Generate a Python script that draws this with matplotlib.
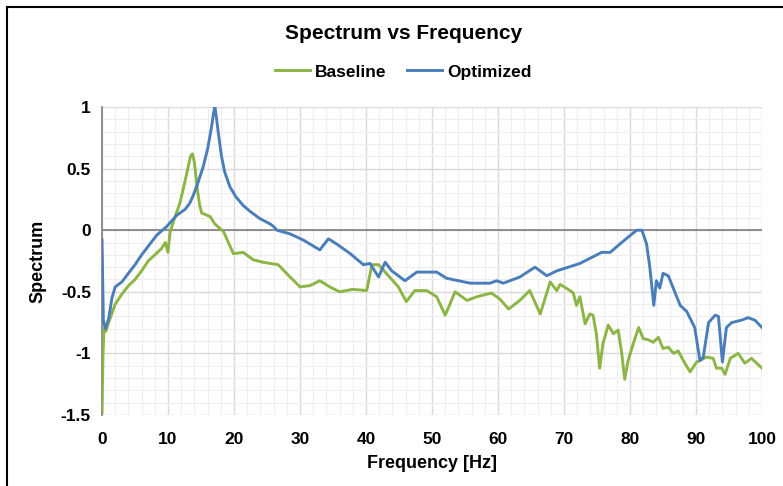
import matplotlib
matplotlib.use("Agg")
from matplotlib import pyplot as plt
from matplotlib.patches import Rectangle
from matplotlib.ticker import MultipleLocator

plt.rcParams['font.family'] = ['Liberation Sans', 'DejaVu Sans']
plt.rcParams['font.weight'] = 'bold'

# values
base_freq = [0.0, 0.15, 0.3, 0.6, 1.0, 2.0, 3.0, 4.0, 5.0, 6.0, 7.0, 8.0, 9.0, 9.6, 10.0,
             10.3, 11.0, 11.8, 12.5, 13.0, 13.4, 13.7, 14.0, 14.4, 14.8, 15.1, 16.4, 17.1,
             18.4, 19.9, 21.4, 22.9, 24.4, 26.7, 28.5, 30.0, 31.5, 33.0, 34.5, 36.0, 38.0,
             40.1, 40.9, 41.9, 42.9, 44.9, 46.1, 47.4, 49.2, 50.7, 52.0, 53.5, 55.3, 56.8,
             59.0, 60.3, 61.6, 63.3, 64.8, 66.4, 67.9, 68.9, 69.4, 70.9, 71.4, 71.9, 72.4,
             73.2, 73.9, 74.4, 74.9, 75.4, 75.9, 76.7, 77.5, 78.2, 78.7, 79.2, 79.7, 80.5,
             81.3, 82.0, 82.8, 83.5, 84.3, 85.0, 85.8, 86.6, 87.3, 88.1, 89.1, 90.1, 91.6,
             92.6, 93.1, 93.9, 94.4, 95.2, 96.4, 97.4, 98.4, 100.0]
base_vals = [-1.48, -1.0, -0.8, -0.82, -0.75, -0.6, -0.52, -0.45, -0.4, -0.33, -0.25, -0.2,
             -0.15, -0.1, -0.18, -0.02, 0.1, 0.22, 0.38, 0.5, 0.6, 0.62, 0.55, 0.35, 0.2,
             0.14, 0.11, 0.05, -0.01, -0.19, -0.18, -0.24, -0.26, -0.28, -0.38, -0.46,
             -0.45, -0.41, -0.46, -0.5, -0.48, -0.49, -0.28, -0.28, -0.34, -0.46, -0.58,
             -0.49, -0.49, -0.54, -0.69, -0.5, -0.57, -0.54, -0.51, -0.56, -0.64, -0.57,
             -0.49, -0.68, -0.42, -0.49, -0.44, -0.49, -0.51, -0.61, -0.54, -0.76, -0.68,
             -0.69, -0.84, -1.12, -0.92, -0.77, -0.84, -0.81, -0.98, -1.21, -1.06, -0.92,
             -0.79, -0.88, -0.89, -0.91, -0.87, -0.96, -0.95, -1.0, -0.98, -1.06, -1.15,
             -1.07, -1.03, -1.04, -1.12, -1.12, -1.17, -1.04, -1.0, -1.08, -1.04, -1.12]

opt_freq = [0.0, 0.2, 0.5, 1.0, 1.5, 2.0, 3.0, 4.0, 5.0, 6.0, 7.0, 8.3, 9.8, 11.3, 12.6,
            13.3, 13.8, 14.5, 15.3, 16.0, 16.6, 16.9, 17.1, 17.3, 17.6, 18.1, 18.6, 19.4,
            20.3, 21.4, 22.5, 23.9, 25.5, 26.0, 26.5, 28.5, 30.5, 33.0, 34.3, 35.5, 37.6,
            39.6, 40.6, 41.9, 42.9, 43.9, 45.9, 47.7, 50.7, 52.2, 55.8, 58.8, 59.8, 60.8,
            63.3, 65.6, 67.4, 68.9, 72.4, 75.7, 77.0, 78.5, 81.0, 81.8, 82.5, 83.0, 83.6,
            84.0, 84.5, 85.0, 85.8, 87.6, 88.6, 89.8, 90.6, 91.1, 91.9, 92.9, 93.4, 94.0,
            94.6, 95.4, 96.9, 97.9, 98.9, 100.0]
opt_vals = [-0.08, -0.73, -0.8, -0.72, -0.55, -0.46, -0.42, -0.35, -0.28, -0.2, -0.13, -0.04,
            0.03, 0.12, 0.17, 0.22, 0.28, 0.38, 0.51, 0.66, 0.84, 0.95, 1.0, 0.93, 0.8, 0.6,
            0.47, 0.35, 0.27, 0.2, 0.15, 0.095, 0.05, 0.03, 0.0, -0.03, -0.08, -0.16, -0.07,
            -0.11, -0.19, -0.28, -0.27, -0.38, -0.26, -0.33, -0.41, -0.34, -0.34, -0.39,
            -0.43, -0.43, -0.41, -0.43, -0.38, -0.3, -0.37, -0.33, -0.27, -0.18, -0.18,
            -0.11, 0.0, 0.0, -0.11, -0.3, -0.61, -0.41, -0.47, -0.35, -0.37, -0.61, -0.66,
            -0.79, -1.06, -1.03, -0.75, -0.69, -0.7, -1.07, -0.79, -0.75, -0.73, -0.71,
            -0.73, -0.79]

fig = plt.figure(figsize=(7.83, 4.86), dpi=100)
ax = fig.add_axes([0.1303, 0.1461, 0.8429, 0.6337])

ax.plot(base_freq, base_vals, color='#8cb545', lw=2.1, label='Baseline', zorder=3,
        solid_joinstyle='round')
ax.plot(opt_freq, opt_vals, color='#4a7ebb', lw=2.1, label='Optimized', zorder=4,
        solid_joinstyle='round')

ax.set_xlim(0, 100)
ax.set_ylim(-1.5, 1)
ax.xaxis.set_major_locator(MultipleLocator(10))
ax.xaxis.set_minor_locator(MultipleLocator(2))
ax.yaxis.set_major_locator(MultipleLocator(0.5))
ax.yaxis.set_minor_locator(MultipleLocator(0.1))
ax.grid(which='major', color='#dadada', lw=1.0)
ax.grid(which='minor', color='#eeeeee', lw=0.8)
ax.set_axisbelow(True)
ax.axhline(0, color='#868686', lw=1.3, zorder=2)

for s in ['top', 'right', 'bottom']:
    ax.spines[s].set_visible(False)
ax.spines['left'].set_color('#868686')
ax.spines['left'].set_linewidth(1.3)
ax.tick_params(which='both', length=0, labelsize=12.5, pad=8)
ax.set_yticks([-1.5, -1, -0.5, 0, 0.5, 1])
ax.set_yticklabels(['-1.5', '-1', '-0.5', '0', '0.5', '1'])
ax.tick_params(axis='x', pad=12)

ax.set_xlabel('Frequency [Hz]', fontsize=13, fontweight='bold', labelpad=6)
ax.set_ylabel('Spectrum', fontsize=13, fontweight='bold', labelpad=10)

fig.text(0.515, 0.932, 'Spectrum vs Frequency', ha='center', va='center',
         fontsize=15, fontweight='bold')
fig.legend(loc='center', bbox_to_anchor=(0.515, 0.852), ncol=2, frameon=False,
           fontsize=12.5, handlelength=2.0, handletextpad=0.3, columnspacing=1.2)

# outer frame (left and top edges visible in the reference)
fig.patches.append(Rectangle((7 / 783, -0.1), 1.2, 1.1 - 7 / 486, transform=fig.transFigure,
                             fill=False, edgecolor='black', lw=1.5))

fig.savefig('out.png', dpi=100)
